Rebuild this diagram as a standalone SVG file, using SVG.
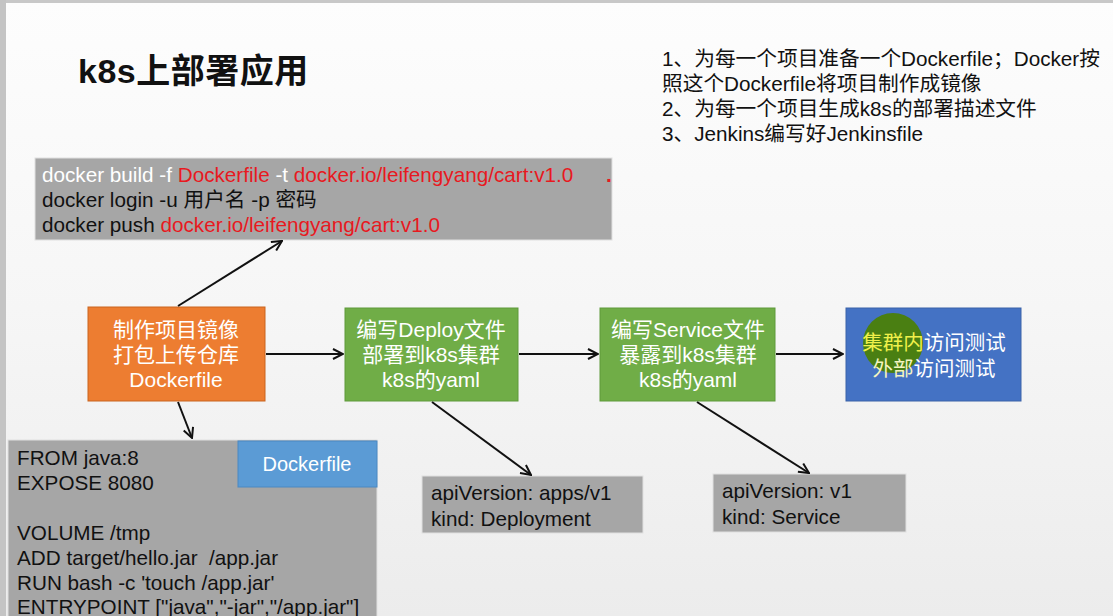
<svg xmlns="http://www.w3.org/2000/svg" width="1113" height="616" viewBox="0 0 1113 616">
<defs>
<linearGradient id="bg" x1="0" y1="0" x2="0" y2="1">
<stop offset="0" stop-color="#fdfdfd"/>
<stop offset="0.5" stop-color="#f6f6f6"/>
<stop offset="1" stop-color="#ececec"/>
</linearGradient>
<marker id="ah" viewBox="0 0 12 12" refX="11" refY="6" markerWidth="12" markerHeight="12" markerUnits="userSpaceOnUse" orient="auto">
<path d="M1,1 L11,6 L1,11" fill="none" stroke="#111" stroke-width="2"/>
</marker>
<style>
text{font-family:"Liberation Sans","Noto Sans CJK SC",sans-serif;}
.t{font-size:20.7px;fill:#111;}
.w{font-size:21px;fill:#fff;}
.r{fill:#e8191f;}
.box{fill:#a6a6a6;stroke:#e0e0e0;stroke-width:1;}
.conn{stroke:#111;stroke-width:2;fill:none;marker-end:url(#ah);}
</style>
</defs>
<rect width="1113" height="616" fill="url(#bg)"/>
<rect x="0" y="0" width="1113" height="3" fill="#c8c8c8"/>
<rect x="0" y="0" width="6" height="616" fill="#c4c4c4"/>

<g id="title">
<text x="78" y="83" font-size="34" font-weight="bold" fill="#111" letter-spacing="0.5">k8s上部署应用</text>
</g>

<g id="notes">
<text class="t" x="662" y="66">1、为每一个项目准备一个Dockerfile；Docker按</text>
<text class="t" x="662" y="91">照这个Dockerfile将项目制作成镜像</text>
<text class="t" x="662" y="116">2、为每一个项目生成k8s的部署描述文件</text>
<text class="t" x="662" y="141">3、Jenkins编写好Jenkinsfile</text>
</g>

<g id="commands">
<rect class="box" x="35" y="158" width="577" height="82"/>
<text class="t" x="42" y="182"><tspan fill="#fff">docker build -f </tspan><tspan class="r">Dockerfile</tspan><tspan fill="#fff"> -t </tspan><tspan class="r">docker.io/leifengyang/cart:v1.0</tspan><tspan class="r" x="606" font-weight="bold">.</tspan></text>
<text class="t" x="42" y="207">docker login -u 用户名 -p 密码</text>
<text class="t" x="42" y="232">docker push <tspan class="r">docker.io/leifengyang/cart:v1.0</tspan></text>
</g>

<g id="build">
<rect x="88" y="307" width="177" height="94" fill="#ed7d31" stroke="#c9651f" stroke-width="1"/>
<text class="w" x="176" y="337" text-anchor="middle">制作项目镜像</text>
<text class="w" x="176" y="362" text-anchor="middle">打包上传仓库</text>
<text class="w" x="176" y="387" text-anchor="middle">Dockerfile</text>
</g>

<g id="deploy">
<rect x="345" y="308" width="173" height="93" fill="#70ad47" stroke="#5e9a3a" stroke-width="1"/>
<text class="w" x="431" y="337" text-anchor="middle">编写Deploy文件</text>
<text class="w" x="431" y="362" text-anchor="middle">部署到k8s集群</text>
<text class="w" x="431" y="387" text-anchor="middle">k8s的yaml</text>
</g>

<g id="service">
<rect x="600" y="308" width="175" height="93" fill="#70ad47" stroke="#5e9a3a" stroke-width="1"/>
<text class="w" x="688" y="337" text-anchor="middle">编写Service文件</text>
<text class="w" x="688" y="362" text-anchor="middle">暴露到k8s集群</text>
<text class="w" x="688" y="387" text-anchor="middle">k8s的yaml</text>
</g>

<g id="test">
<rect x="846" y="308" width="175" height="93" fill="#4472c4" stroke="#3a62a8" stroke-width="1"/>
<circle cx="893" cy="343" r="30" fill="#4a7f12"/>
<text x="934" y="350" font-size="20.5" text-anchor="middle" fill="#fff"><tspan fill="#f0f04a">集群内</tspan>访问测试</text>
<text x="934" y="376" font-size="20.5" text-anchor="middle" fill="#fff"><tspan fill="#f4f4c0">外部</tspan>访问测试</text>
</g>

<g id="dockerfile">
<rect class="box" x="8" y="440" width="369" height="180"/>
<text class="t" x="17" y="465">FROM java:8</text>
<text class="t" x="17" y="490">EXPOSE 8080</text>
<text class="t" x="17" y="540">VOLUME /tmp</text>
<text class="t" x="17" y="565" xml:space="preserve">ADD target/hello.jar  /app.jar</text>
<text class="t" x="17" y="590">RUN bash -c 'touch /app.jar'</text>
<text class="t" x="17" y="614">ENTRYPOINT ["java","-jar","/app.jar"]</text>
<rect x="238" y="441" width="139" height="46" fill="#5b9bd5" stroke="#4a88c2" stroke-width="1"/>
<text x="307" y="471" font-size="20" text-anchor="middle" fill="#fff">Dockerfile</text>
</g>

<g id="deployyaml">
<rect class="box" x="422" y="476" width="221" height="57"/>
<text class="t" x="431" y="500">apiVersion: apps/v1</text>
<text class="t" x="431" y="526">kind: Deployment</text>
</g>

<g id="serviceyaml">
<rect class="box" x="713" y="474" width="193" height="58"/>
<text class="t" x="722" y="498">apiVersion: v1</text>
<text class="t" x="722" y="524">kind: Service</text>
</g>

<g id="connectors">
<line class="conn" x1="178" y1="306" x2="282" y2="241"/>
<line class="conn" x1="266" y1="354" x2="343" y2="354"/>
<line class="conn" x1="519" y1="354" x2="598" y2="354"/>
<line class="conn" x1="776" y1="354" x2="843" y2="354"/>
<line class="conn" x1="178" y1="402" x2="192" y2="438"/>
<line class="conn" x1="432" y1="402" x2="531" y2="475"/>
<line class="conn" x1="697" y1="402" x2="809" y2="473"/>
</g>
</svg>
